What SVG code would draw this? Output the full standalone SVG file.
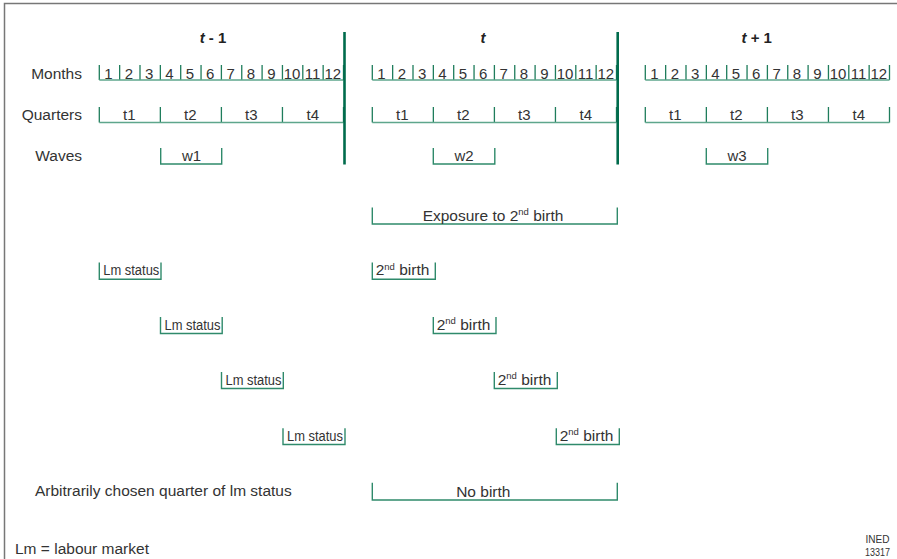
<svg xmlns="http://www.w3.org/2000/svg" width="897" height="559" viewBox="0 0 897 559">
<style>
text{font-family:"Liberation Sans",Arial,sans-serif;fill:#333;font-size:15.5px}
.lbl{text-anchor:end}
.hd{font-weight:bold;text-anchor:middle;font-size:15px;fill:#222}
.hd .it{font-style:italic}
.num{text-anchor:middle;font-size:15px}
.mid{text-anchor:middle}
.tick{stroke:#1f7d5c;stroke-width:1.3;fill:none}
.hl{stroke:#5ea68c;stroke-width:1.6;fill:none}
.br{fill:none;stroke:#2f8a6b;stroke-width:1.4}
.sep{stroke:#006b4c;stroke-width:2.6}
.sup{font-size:9.5px}
.ined{font-size:11px;text-anchor:middle}
</style>
<defs>
<g id="monthTicks">
<path class="tick" d="M0 65V80M20.35 65V80M40.7 65V80M61.05 65V80M81.4 65V80M101.75 65V80M122.1 65V80M142.45 65V80M162.8 65V80M183.15 65V80M203.5 65V80M223.85 65V80M244.2 65V80"/>
<path class="hl" d="M0 80H244.2"/>
<path class="tick" d="M0 107V122.5M61.05 107V122.5M122.1 107V122.5M183.15 107V122.5M244.2 107V122.5"/>
<path class="hl" d="M0 122.5H244.2"/>
<text class="num" x="9.2" y="78.5">1</text>
<text class="num" x="29.5" y="78.5">2</text>
<text class="num" x="49.9" y="78.5">3</text>
<text class="num" x="70.2" y="78.5">4</text>
<text class="num" x="90.6" y="78.5">5</text>
<text class="num" x="110.9" y="78.5">6</text>
<text class="num" x="131.3" y="78.5">7</text>
<text class="num" x="151.6" y="78.5">8</text>
<text class="num" x="172" y="78.5">9</text>
<text class="num" x="192.8" y="78.5">10</text>
<text class="num" x="213.2" y="78.5">11</text>
<text class="num" x="233.5" y="78.5">12</text>
<text class="num" x="30" y="120">t1</text>
<text class="num" x="91" y="120">t2</text>
<text class="num" x="152" y="120">t3</text>
<text class="num" x="213.5" y="120">t4</text>
</g>
</defs>

<g id="frame">
<path d="M4.5 559V3.5H897" fill="none" stroke="#777" stroke-width="1.5"/>
</g>

<g id="row-labels">
<text class="lbl" x="82" y="78.5">Months</text>
<text class="lbl" x="82" y="120">Quarters</text>
<text class="lbl" x="82" y="161">Waves</text>
<text x="35" y="496">Arbitrarily chosen quarter of lm status</text>
<text x="15" y="554">Lm = labour market</text>
</g>

<g id="year-t-1">
<text class="hd" x="213" y="42.5"><tspan class="it">t</tspan> - 1</text>
<use href="#monthTicks" x="99.3"/>
<path class="br" d="M160.7 148V164H221.7V148"/>
<text class="num" x="191.5" y="160.5">w1</text>
</g>

<g id="year-t">
<text class="hd" x="483" y="42.5"><tspan class="it">t</tspan></text>
<use href="#monthTicks" x="372.3"/>
<path class="br" d="M433.3 148V164H494.8V148"/>
<text class="num" x="464" y="160.5">w2</text>
</g>

<g id="year-t+1">
<text class="hd" x="756.7" y="42.5"><tspan class="it">t</tspan> + 1</text>
<use href="#monthTicks" x="645.3"/>
<path class="br" d="M706.3 148V164H767.7V148"/>
<text class="num" x="737" y="160.5">w3</text>
</g>

<g id="separators">
<line class="sep" x1="344.5" y1="32" x2="344.5" y2="164.5"/>
<line class="sep" x1="617.7" y1="32" x2="617.7" y2="164.5"/>
</g>

<g id="exposure">
<path class="br" d="M372.3 207.5V224H617.3V207.5"/>
<text class="mid" x="493" y="220.5">Exposure to 2<tspan class="sup" dy="-5.5">nd</tspan><tspan dy="5.5"> birth</tspan></text>
</g>

<g id="lm-status-1">
<path class="br" d="M99.3 262.5V279.3H161V262.5"/>
<text x="103.3" y="275.3" textLength="56" lengthAdjust="spacingAndGlyphs">Lm status</text>
</g>
<g id="lm-status-2">
<path class="br" d="M160.5 317V333.5H222.2V317"/>
<text x="164.5" y="329.5" textLength="56" lengthAdjust="spacingAndGlyphs">Lm status</text>
</g>
<g id="lm-status-3">
<path class="br" d="M221.5 372V388.5H283.3V372"/>
<text x="225.5" y="384.5" textLength="56" lengthAdjust="spacingAndGlyphs">Lm status</text>
</g>
<g id="lm-status-4">
<path class="br" d="M283 428.3V444.5H345V428.3"/>
<text x="287" y="440.5" textLength="56" lengthAdjust="spacingAndGlyphs">Lm status</text>
</g>

<g id="birth-1">
<path class="br" d="M372.3 262.5V279.3H435.3V262.5"/>
<text x="375.7" y="275.3">2<tspan class="sup" dy="-5.5">nd</tspan><tspan dy="5.5"> birth</tspan></text>
</g>
<g id="birth-2">
<path class="br" d="M433.3 317V333.5H496V317"/>
<text x="436.7" y="329.5">2<tspan class="sup" dy="-5.5">nd</tspan><tspan dy="5.5"> birth</tspan></text>
</g>
<g id="birth-3">
<path class="br" d="M494.3 372V388.5H557.3V372"/>
<text x="497.7" y="384.5">2<tspan class="sup" dy="-5.5">nd</tspan><tspan dy="5.5"> birth</tspan></text>
</g>
<g id="birth-4">
<path class="br" d="M556.3 428.3V444.5H619.3V428.3"/>
<text x="559.7" y="440.5">2<tspan class="sup" dy="-5.5">nd</tspan><tspan dy="5.5"> birth</tspan></text>
</g>

<g id="no-birth">
<path class="br" d="M372.3 482.7V500H617.3V482.7"/>
<text class="mid" x="483.3" y="496.5">No birth</text>
</g>

<g id="source">
<text class="ined" x="877.5" y="543" textLength="24" lengthAdjust="spacingAndGlyphs">INED</text>
<text class="ined" x="877.5" y="555.5" textLength="25" lengthAdjust="spacingAndGlyphs">13317</text>
</g>
</svg>
